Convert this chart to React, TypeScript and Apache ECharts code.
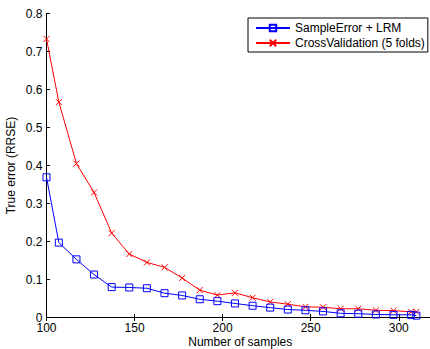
import React, { useEffect, useRef } from "react";
import * as echarts from "echarts";

const sampleCounts = [100, 107, 117, 127, 137, 147, 157, 167, 177, 187, 197, 207, 217, 227, 237, 247, 257, 267, 277, 287, 297, 307, 310];
const sampleErrorLRM = [0.369, 0.197, 0.153, 0.113, 0.08, 0.079, 0.077, 0.064, 0.058, 0.048, 0.043, 0.037, 0.031, 0.026, 0.021, 0.019, 0.016, 0.011, 0.01, 0.008, 0.007, 0.007, 0.005];
const crossValidation = [0.733, 0.567, 0.405, 0.329, 0.222, 0.167, 0.145, 0.132, 0.104, 0.072, 0.059, 0.065, 0.052, 0.041, 0.035, 0.028, 0.027, 0.023, 0.023, 0.019, 0.018, 0.015, 0.015];
const seriesNames = ["SampleError + LRM", "CrossValidation (5 folds)"];
const xAxisTitle = "Number of samples";
const yAxisTitle = "True error (RRSE)";

const FONT = "'Liberation Sans', Arial, Helvetica, sans-serif";

export default function App() {
  const ref = useRef<HTMLDivElement>(null);
  useEffect(() => {
    document.body.style.margin = "0";
    if (!ref.current) return;
    const chart = echarts.init(ref.current, null, { renderer: "svg" });
    const blueData = sampleCounts.map((x, i) => [x, sampleErrorLRM[i]]);
    const redData = sampleCounts.map((x, i) => [x, crossValidation[i]]);
    const axisLine = { show: true, lineStyle: { color: "#000", width: 1 } };
    const axisTick = { show: true, inside: true, length: 3.5, lineStyle: { color: "#000", width: 1 } };
    const label = { color: "#000", fontSize: 12, fontFamily: FONT, lineHeight: 12 };
    chart.setOption({
      animation: false,
      backgroundColor: "#fff",
      textStyle: { fontFamily: FONT },
      grid: { left: 46.5, right: -4, top: 13.5, bottom: 31.5, containLabel: false, outerBoundsMode: "none" },
      legend: {
        orient: "vertical",
        left: 248,
        top: 18,
        padding: [3, 3, 2, 7],
        itemWidth: 34,
        itemHeight: 8,
        itemGap: 1,
        borderColor: "#000",
        borderWidth: 1,
        backgroundColor: "#fff",
        textStyle: { color: "#000", fontSize: 12, fontFamily: FONT, lineHeight: 14 },
        data: seriesNames,
      },
      xAxis: [
        {
          type: "value",
          min: 100,
          max: 320,
          interval: 50,
          position: "bottom",
          splitLine: { show: false },
          axisLine,
          axisTick,
          axisLabel: { ...label, margin: 4.5, showMaxLabel: false },
          name: xAxisTitle,
          nameLocation: "middle",
          nameGap: 18,
          nameMoveOverlap: false,
          nameTextStyle: { ...label },
        },
        {
          type: "value",
          min: 100,
          max: 320,
          interval: 50,
          position: "top",
          splitLine: { show: false },
          axisLine,
          axisTick,
          axisLabel: { show: false },
        },
      ],
      yAxis: [
        {
          type: "value",
          min: 0,
          max: 0.8,
          interval: 0.1,
          position: "left",
          splitLine: { show: false },
          axisLine,
          axisTick,
          axisLabel: { ...label, margin: 4 },
          name: yAxisTitle,
          nameLocation: "middle",
          nameGap: 29.5,
          nameMoveOverlap: false,
          nameTextStyle: { ...label },
        },
        {
          type: "value",
          min: 0,
          max: 0.8,
          interval: 0.1,
          position: "right",
          splitLine: { show: false },
          axisLine,
          axisTick,
          axisLabel: { show: false },
        },
      ],
      series: [
        {
          name: seriesNames[0],
          type: "line",
          data: blueData,
          clip: false,
          symbol: "rect",
          symbolSize: 7,
          showAllSymbol: true,
          lineStyle: { color: "#0000ff", width: 1 },
          itemStyle: { color: "rgba(255,255,255,0)", borderColor: "#0000ff", borderWidth: 1 },
          emphasis: { disabled: true },
          z: 3,
        },
        {
          name: seriesNames[1],
          type: "line",
          data: redData,
          clip: false,
          symbol: "path://M0,0L10,10M10,0L0,10",
          symbolSize: 6,
          showAllSymbol: true,
          lineStyle: { color: "#ff0000", width: 1 },
          itemStyle: { color: "rgba(255,255,255,0)", borderColor: "#ff0000", borderWidth: 1 },
          emphasis: { disabled: true },
          z: 2,
        },
      ],
    });
    return () => chart.dispose();
  }, []);
  return <div ref={ref} style={{ position: "absolute", left: 0, top: 0, width: 430, height: 349 }} />;
}
